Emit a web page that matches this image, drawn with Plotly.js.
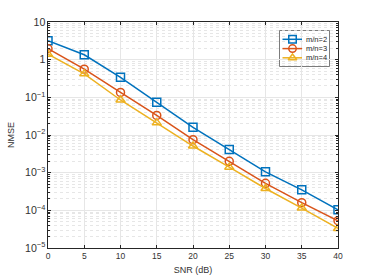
<!DOCTYPE html>
<html><head><meta charset="utf-8">
<script src="https://cdn.plot.ly/plotly-3.0.1.min.js"></script>
<style>html,body{margin:0;padding:0;background:#fff;}#chart{width:374px;height:280px;}</style>
</head><body><div id="chart"></div>
<script>
const snr = [0, 5, 10, 15, 20, 25, 30, 35, 40];
const nmse_m2 = [3.2, 1.35, 0.34, 0.074, 0.016, 0.0041, 0.00105, 0.00035, 0.000103];
const nmse_m3 = [1.95, 0.56, 0.135, 0.033, 0.0075, 0.002, 0.00052, 0.00016, 0.000053];
const nmse_m4 = [1.4, 0.42, 0.085, 0.021, 0.0051, 0.0014, 0.00038, 0.000115, 0.000033];
const names = ['m/n=2', 'm/n=3', 'm/n=4'];
const colors = ['#0072BD', '#D95319', '#EDB120'];
const symbols = ['square-open', 'circle-open', 'triangle-up-open'];
const series = [nmse_m2, nmse_m3, nmse_m4];
const xTicks = [0, 5, 10, 15, 20, 25, 30, 35, 40];

const fontFam = 'Liberation Sans, Arial, sans-serif';

// main data traces
const traces = series.map((y, i) => ({
  x: snr, y: y, type: 'scatter', mode: 'lines+markers', name: names[i],
  showlegend: false,
  line: {color: colors[i], width: 1.5},
  marker: {symbol: symbols[i], size: 8, color: colors[i], line: {color: colors[i], width: 1.5}}
}));

// compact MATLAB-style legend drawn on a hidden overlay axis in pixel units
const legRows = [39.3, 48.6, 57.8];
names.forEach((n, i) => {
  traces.push({
    x: [282.5, 292.5, 302], y: [legRows[i], legRows[i], legRows[i]],
    xaxis: 'x2', yaxis: 'y2', type: 'scatter', mode: 'lines+markers', showlegend: false,
    hoverinfo: 'skip',
    line: {color: colors[i], width: 1.5},
    marker: {symbol: symbols[i], size: 7.5, color: colors[i], opacity: [0, 1, 0],
             line: {color: colors[i], width: 1.5}}
  });
});

const axCommon = {
  showline: true, mirror: 'ticks', linecolor: '#262626', linewidth: 1,
  ticks: 'inside', ticklen: 3, tickcolor: '#262626',
  tickfont: {family: fontFam, size: 8.5, color: '#333'},
  gridcolor: '#e6e6e6', gridwidth: 1, zeroline: false
};

const layout = {
  width: 374, height: 280,
  margin: {l: 48, r: 36, t: 22, b: 32},
  paper_bgcolor: '#fff', plot_bgcolor: '#fff',
  showlegend: false,
  xaxis: Object.assign({}, axCommon, {
    range: [0, 40], tickvals: xTicks, ticktext: xTicks.map(String),
    title: {text: 'SNR (dB)', font: {family: fontFam, size: 9, color: '#333'}, standoff: 6}
  }),
  yaxis: Object.assign({}, axCommon, {
    type: 'log', range: [-5, 1], dtick: 1, exponentformat: 'power',
    title: {text: 'NMSE', font: {family: fontFam, size: 9, color: '#333'}, standoff: 8},
    minor: {showgrid: true, dtick: 'D1', gridcolor: '#e0e0e0', griddash: 'dot', gridwidth: 0.8, ticks: 'inside', ticklen: 2, tickcolor: '#262626'}
  }),
  xaxis2: {overlaying: 'x', anchor: 'y2', range: [48, 338], visible: false, fixedrange: true},
  yaxis2: {overlaying: 'y', anchor: 'x2', range: [248, 22], visible: false, fixedrange: true},
  shapes: [{
    type: 'rect', xref: 'paper', yref: 'paper', layer: 'between',
    x0: (279.5 - 48) / 290, x1: (329.5 - 48) / 290,
    y0: 1 - (66.5 - 22) / 226, y1: 1 - (30.5 - 22) / 226,
    fillcolor: '#fff', line: {color: '#5a5a5a', width: 0.8}
  }],
  annotations: names.map((n, i) => ({
    xref: 'x2', yref: 'y2', x: 304, y: legRows[i], xanchor: 'left', yanchor: 'middle',
    text: n, showarrow: false, font: {family: fontFam, size: 7.5, color: '#262626'}
  }))
};

Plotly.newPlot('chart', traces, layout, {displayModeBar: false, staticPlot: true});
</script></body></html>
